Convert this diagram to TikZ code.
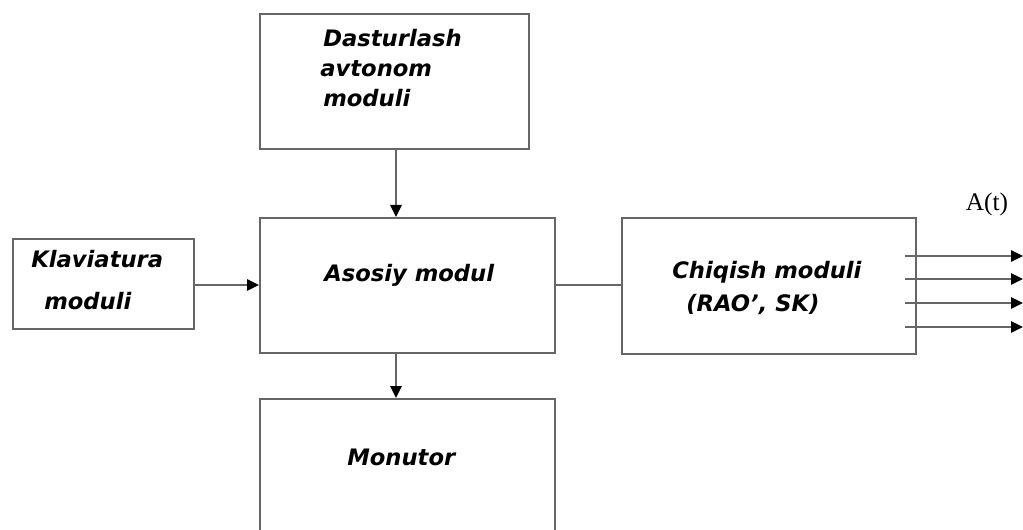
\documentclass[tikz,border=0pt]{standalone}
\usepackage{fontspec}
\setmainfont{DejaVu Sans}
\newfontfamily\serifA{Liberation Serif}
\usetikzlibrary{arrows.meta}
\begin{document}
\begin{tikzpicture}[x=0.75pt,y=-0.75pt,
  box/.style={draw=black!60,line width=1.3pt,inner sep=0pt,anchor=north west},
  lbl/.style={font=\fontsize{17}{23}\selectfont\bfseries\itshape,inner sep=0pt,anchor=base west},
  conn/.style={draw=black!60,line width=1.3pt},
  arr/.style={conn,-{Triangle[length=9pt,width=8.5pt,fill=black,color=black]}}]
\clip (0,0) rectangle (1023,530);
\fill[white] (0,0) rectangle (1023,530);
% boxes
\node[box,minimum width=269*0.75pt,minimum height=135*0.75pt] (dast) at (259,13) {};
\node[box,minimum width=295*0.75pt,minimum height=135*0.75pt] (asos) at (259,217) {};
\node[box,minimum width=181*0.75pt,minimum height=90*0.75pt] (klav) at (12,238) {};
\node[box,minimum width=294*0.75pt,minimum height=136*0.75pt] (chiq) at (621,217) {};
\node[box,minimum width=295*0.75pt,minimum height=180*0.75pt] (mon) at (259,398) {};
% texts
\node[lbl] (t1) at (323,47) {Dasturlash};
\node[lbl] (t2) at (320,77) {avtonom};
\node[lbl] (t3) at (323,107) {moduli};
\node[lbl] (t4) at (31,268) {Klaviatura};
\node[lbl] (t5) at (44,310) {moduli};
\node[lbl] (t6) at (324,282) {Asosiy modul};
\node[lbl] (t7) at (672,279) {Chiqish moduli};
\node[lbl] (t8) at (686,312) {(RAO', SK)};
\node[lbl] (t9) at (347,465) {Monutor};
\node[font=\serifA\fontsize{19}{22}\selectfont,inner sep=0pt] (at) at (987,204) {A(t)};
% connectors
\draw[arr] (dast.south -| 396,0) -- (asos.north -| 396,0);
\draw[arr] (asos.south -| 396,0) -- (mon.north -| 396,0);
\draw[arr] (klav.east |- 0,285) -- (asos.west |- 0,285);
\draw[conn] (asos.east |- 0,285) -- (chiq.west |- 0,285);
\coordinate (o1s) at (905,256); \coordinate (o1e) at (1023,256);
\coordinate (o2s) at (905,279); \coordinate (o2e) at (1023,279);
\coordinate (o3s) at (905,303); \coordinate (o3e) at (1023,303);
\coordinate (o4s) at (905,327); \coordinate (o4e) at (1023,327);
\draw[arr] (o1s) -- (o1e);
\draw[arr] (o2s) -- (o2e);
\draw[arr] (o3s) -- (o3e);
\draw[arr] (o4s) -- (o4e);
\end{tikzpicture}
\end{document}
